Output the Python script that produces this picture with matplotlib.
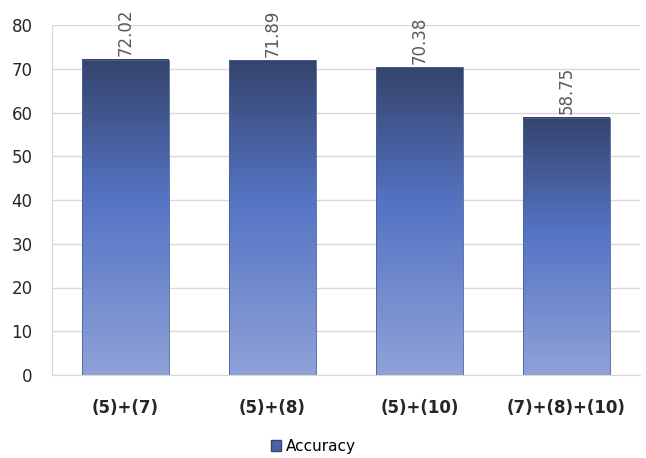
import numpy as np
import matplotlib
matplotlib.use("Agg")
import matplotlib.pyplot as plt
from matplotlib.colors import LinearSegmentedColormap
from matplotlib.patches import Patch

categories = ["(5)+(7)", "(5)+(8)", "(5)+(10)", "(7)+(8)+(10)"]
accuracy = [72.02, 71.89, 70.38, 58.75]
yticks = [0, 10, 20, 30, 40, 50, 60, 70, 80]

W, H = 646, 458
fig = plt.figure(figsize=(W/100, H/100), dpi=100)
ax = fig.add_axes([52/W, 1-375/H, (640-52)/W, (375-25)/H])

cmap = LinearSegmentedColormap.from_list("g", [(0.0, "#8fa2d8"), (0.55, "#5574c4"), (1.0, "#35446c")])
bw = 0.59
x = np.arange(len(categories))
bars = ax.bar(x, accuracy, width=bw, color="none", edgecolor="none", zorder=3)
grad = np.linspace(0, 1, 256).reshape(-1, 1)
for b in bars:
    x0, y0 = b.get_x(), b.get_y()
    ax.imshow(grad, cmap=cmap, origin="lower", aspect="auto",
              extent=[x0, x0 + b.get_width(), y0, y0 + b.get_height()], zorder=3)
    ax.add_patch(plt.Rectangle((x0, y0), b.get_width(), b.get_height(), fill=False,
                               edgecolor="#4a5f9c", linewidth=0.6, zorder=4))

for xi, v in zip(x, accuracy):
    ax.text(xi, v + 0.8, f"{v:.2f}", rotation=90, ha="center", va="bottom",
            fontsize=12, color="#595959", zorder=5)

ax.set_xlim(-0.5, len(categories) - 0.5)
ax.set_ylim(0, 80)
ax.set_yticks(yticks)
ax.set_yticklabels([str(t) for t in yticks], fontsize=12, color="#262626")
ax.set_xticks(x)
ax.set_xticklabels(categories, fontsize=12, fontweight="bold", color="#262626")
ax.tick_params(axis="both", length=0)
ax.tick_params(axis="x", pad=17)
ax.tick_params(axis="y", pad=14)
ax.grid(axis="y", color="#d9d9d9", linewidth=1, zorder=0)
ax.set_axisbelow(True)
for s in ["top", "right"]:
    ax.spines[s].set_visible(False)
ax.spines["left"].set_color("#d9d9d9")
ax.spines["bottom"].set_color("#d9d9d9")

fig.legend(handles=[Patch(facecolor="#4a62aa", edgecolor="#35446c", label="Accuracy")],
           loc="center", bbox_to_anchor=(0.485, 1-446/H), frameon=False, fontsize=11,
           handlelength=0.7, handleheight=0.7, handletextpad=0.3)

fig.savefig("out.png", dpi=100)
